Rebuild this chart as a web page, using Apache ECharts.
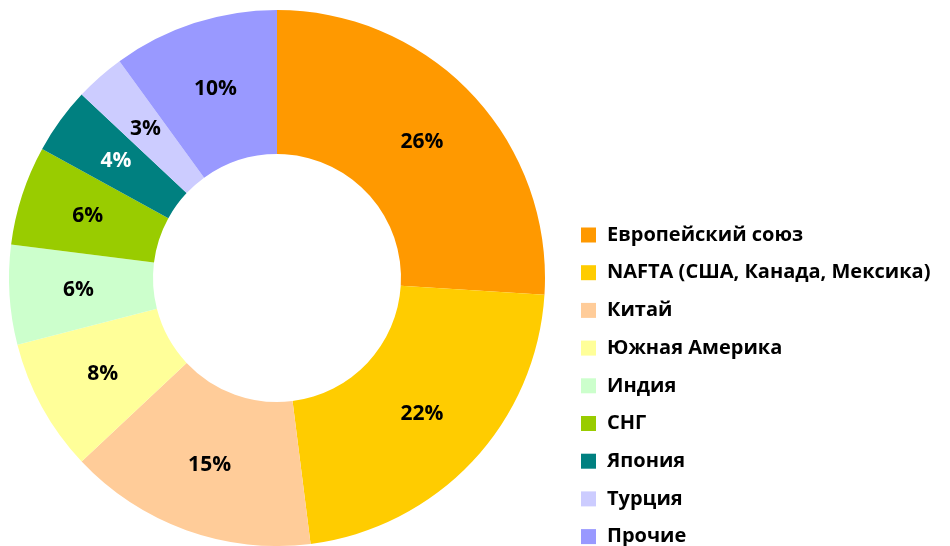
<!DOCTYPE html>
<html>
<head>
<meta charset="utf-8">
<script src="https://cdn.jsdelivr.net/npm/echarts@6/dist/echarts.min.js"></script>
<style>
  html, body { margin: 0; padding: 0; background: #fff; }
  #chart { width: 950px; height: 546px; }
</style>
</head>
<body>
<div id="chart"></div>
<script>
// регионы и доли, %
const regions = ['Европейский союз', 'NAFTA (США, Канада, Мексика)', 'Китай', 'Южная Америка', 'Индия', 'СНГ', 'Япония', 'Турция', 'Прочие']
const shares = [26, 22, 15, 8, 6, 6, 4, 3, 10]
const colors = ['#FF9900', '#FFCC00', '#FFCC99', '#FFFF99', '#CCFFCC', '#99CC00', '#008080', '#CCCCFF', '#9999FF']
const labelColors = ['#000', '#000', '#000', '#000', '#000', '#000', '#fff', '#000', '#000']

const myChart = echarts.init(document.getElementById('chart'))

const option = {
    animation: false,
    color: colors,
    legend: {
        orient: 'vertical',
        left: 581,
        top: 225,
        height: 340,
        padding: 0,
        itemWidth: 15,
        itemHeight: 15,
        itemGap: 17.7,
        icon: 'rect',
        textStyle: {
            fontFamily: 'Open Sans',
            fontWeight: 'bold',
            fontSize: 20,
            lineHeight: 20,
            color: '#000',
            padding: [0, 0, 0, 6]
        },
        data: regions
    },
    series: [
        {
            type: 'pie',
            center: [277, 278],
            radius: [124, 268],
            startAngle: 90,
            clockwise: true,
            avoidLabelOverlap: false,
            label: {
                show: true,
                position: 'inside',
                formatter: '{c}%',
                fontFamily: 'Open Sans',
                fontWeight: 'bold',
                fontSize: 21
            },
            labelLine: { show: false },
            emphasis: { disabled: true },
            data: regions.map((name, i) => ({
                name: name,
                value: shares[i],
                label: { color: labelColors[i] }
            }))
        }
    ]
}

myChart.setOption(option)
</script>
</body>
</html>
